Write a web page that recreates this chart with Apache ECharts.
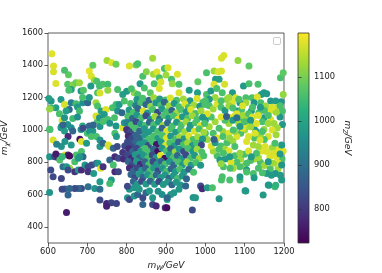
<!DOCTYPE html>
<html><head><meta charset="utf-8">
<script src="https://cdn.jsdelivr.net/npm/echarts@6/dist/echarts.min.js"></script>
<style>html,body{margin:0;padding:0;background:#fff}#c{width:382px;height:273px}</style>
</head><body><div id="c"></div>
<script>
// Tick labels
const xTicks = [600, 700, 800, 900, 1000, 1100, 1200];
const yTicks = [400, 600, 800, 1000, 1200, 1400, 1600];
const cTicks = [800, 900, 1000, 1100];
const cRange = [723, 1200];

// Points: [m_W, m_chi, m_Z]
const upperLeft = [
[610,1472,1180],[614,1395,1175],[614,1360,1170],[620,1288,1175],[652,1342,1080],[642,1369,1060],[650,1282,1070],[663,1278,1110],[671,1292,1090],[680,1292,1130],[659,1251,990],[653,1245,1060],[684,1241,980],[690,1245,1070],[705,1364,1180],[710,1333,1175],[714,1400,1080],[718,1307,1130],[724,1302,1060],[731,1272,1050],[739,1282,1060],[752,1282,1050],[750,1430,1130],[762,1416,1175],[773,1406,1090],[709,1272,980],[726,1230,1060],[732,1228,1170],[752,1245,1120],[777,1251,1060],[790,1220,990],
[608,1179,970],[633,1189,980],[620,1137,990],[642,1158,1170],[608,1137,1050],[659,1168,920],[671,1162,1050],[675,1142,980],[688,1168,960],[688,1200,1060],[654,1127,890],[646,1117,990],[680,1117,1050],[701,1168,880],[705,1200,980],[722,1168,1130],[726,1148,1060],[735,1117,990],[747,1127,1175],[743,1096,980],[764,1137,1060],[773,1158,1050],[781,1158,980],[794,1179,1060],[777,1117,960],[788,1107,880],
[636,1059,1170],[629,1100,1060],[642,1076,970],[663,1071,1050],[675,1080,960],[650,1034,970],[659,1014,960],[633,1014,970],[642,993,990],[605,1003,1050],[663,993,880],[684,1003,960],[688,1024,1020],[705,1024,880],[714,993,980],[726,1055,1060],[722,1086,1170],[731,1076,970],[752,1065,1060],[769,1076,1060],[773,1024,970],[790,1014,1175],[794,1045,970],[807,1076,880],[815,1055,1060],[803,993,880],[602,1195,990],[604,1130,1120]
];
const midLeft = [
[604,1004,1060],[613,938,1175],[634,1021,980],[638,1031,880],[651,959,780],[643,928,970],[659,907,980],[634,897,970],[681,942,750],[685,928,1175],[689,1010,830],[700,979,1060],[706,990,970],[710,959,1060],[698,917,980],[723,959,1060],[732,938,970],[732,897,980],[740,917,880],[753,907,1175],[756,897,1170],[766,886,880],[776,897,830],[770,979,1060],[774,959,980],[732,1021,970],[715,1031,880],[740,1052,1060],[757,1041,970],[622,912,930]
];
const lowerLeft = [
[604,834,970],[607,752,830],[604,613,970],[617,834,830],[625,830,780],[630,834,790],[620,851,760],[613,710,830],[634,700,820],[630,814,1060],[638,772,900],[643,845,1175],[651,845,770],[655,838,740],[636,834,1040],[655,762,1120],[668,803,1060],[672,845,1060],[677,824,980],[685,866,1060],[689,834,880],[681,834,970],[647,772,970],[651,752,830],[668,741,790],[677,752,970],[685,752,780],[694,783,970],[702,772,830],[702,741,790],[711,783,830],[716,731,980],[723,793,880],[727,793,970],[734,762,1175],[740,772,790],[757,814,880],[766,783,1060],[770,834,780],[779,824,830],[770,741,780],[779,741,820],[761,690,980],[757,669,1050],[732,679,980],[719,638,970],[702,648,900],[685,638,830],[677,638,880],[668,638,830],[655,638,880],[643,634,880],[636,632,830],[651,597,880],[732,632,890],[732,566,830],[749,545,780],[761,549,820],[774,545,820],[749,528,770],[647,489,760],[790,860,800],[795,900,830],[792,820,780]
];
const topMiddle = [
[807,1395,1175],[824,1402,1090],[828,1410,1060],[866,1443,1130],[841,1333,1060],[834,1286,980],[868,1344,1130],[877,1358,1175],[883,1323,1060],[887,1296,1175],[870,1286,1060],[896,1381,1060],[900,1340,1130],[883,1257,1175],[819,1230,1120],[828,1220,1060],
[905,1385,1175],[929,1344,1175],[914,1313,1060],[916,1286,1120],[933,1282,1060],[981,1298,1080],[959,1245,980],[933,1230,1175],[980,1230,990],[845,1260,1060],[860,1230,1080],[850,1360,1110],[800,1240,980],[812,1255,1060]
];
const topRight = [
[1047,1461,1175],[1041,1443,1170],[1083,1430,1120],[1111,1395,1080],[1003,1354,1060],[1022,1364,1130],[1033,1360,1175],[1041,1364,1170],[1026,1313,980],[1035,1313,990],[1022,1282,1175],[1049,1282,1170],[1097,1272,980],[1111,1286,1060],[1134,1282,1060],[1149,1230,970],[1156,1224,980],[1142,1220,980],[1191,1323,1060],[1198,1354,1080],[1198,1220,1120],[1003,1220,1060],[1014,1241,980],[1029,1257,1060],[1043,1230,1060],[1069,1230,980],[1077,1199,1175],[1103,1199,1060],[1119,1199,1060],[1132,1204,1175],[1054,1189,1120]
];
const rightSide = [
[1103,1168,1130],[1088,1168,980],[1069,1168,1175],[1124,1168,970],[1141,1168,1060],[1166,1179,970],[1179,1179,980],[1193,1175,970],[1183,1137,1175],[1196,1117,1060],[1164,1117,1175],[1153,1148,1130],[1117,1117,980],[1136,1107,1060],[1107,1076,1130],[1149,1076,980],[1166,1065,1175],[1190,1080,970],[1196,1034,980],[1183,1014,1130],[1149,1003,1120],[1124,1024,970],[1128,993,980],[1107,1034,1175],[1090,1055,1060],[1064,1076,1175],[1075,1086,1175],[1081,1117,980],[1092,1125,1060],
[1010,1150,1060],[1020,1130,1130],[1030,1160,1175],[1040,1140,1060],[1050,1120,980],[1060,1150,1130],[1070,1135,1060],[1080,1100,1175],[1095,1090,1130],[1110,1100,1060],[1120,1080,1175],[1135,1090,1175],[1145,1050,1060],[1160,1040,1130],[1170,1000,1175],[1180,970,1130],[1160,960,1175],[1150,940,1060],[1140,970,1130],[1125,950,1060],[1110,960,1175],[1100,1000,1130],[1090,980,1060],[1080,960,1175],[1070,930,1130],[1055,920,1060],[1045,990,1130],[1035,1010,1060],[1025,1050,1130],[1015,1080,1060],[1005,1100,1175],[1000,1060,980],[1010,1020,1130],[1020,980,1060],[1030,950,1175],[1040,900,1060],[1050,880,1130],[1060,870,1175],[1075,840,1060],[1090,820,1130],[1100,850,1060],[1110,870,1175],[1125,820,1130],[1140,800,1060],[1150,780,1130],[1165,760,1060],[1185,760,1130],[1195,820,1060],[1198,870,1175],[1185,880,1175],[1170,890,1130],[1145,870,1175],[1135,830,1130],[1115,810,1060],[1100,780,1130],[1080,800,1060],[1065,800,1175],[1050,820,980],[1030,840,1060],[1020,870,1130],[1015,900,1175],[1025,920,980],[1035,880,1060],[1005,940,1130],[1000,980,1060],[1060,1040,1130],[1050,1060,1060],[1040,1080,1175],[1070,1060,980],[1085,1040,1130],[1100,1050,1060],[1115,1020,1130],[1130,1040,1175],[1160,1090,1060],[1175,1040,1130],[1190,1150,1060],[1180,1110,1130],[1170,1140,1175],[1150,1120,1060],[1140,1140,980],[1120,1140,1060],[1095,1150,1175],[1085,1190,1060],[1060,1200,1130],[1040,1180,1060],[1025,1200,1130],[1010,1190,980],[1000,1180,1060],[1115,1060,980],[1095,1010,1175],[1075,990,1130],[1060,980,1175],[1045,960,1060],[1145,990,1060],
[986,917,830],[1054,1083,870],[1022,940,870],[1080,1075,900],
[1156,866,1175],[1164,834,1175],[1173,855,1170],[1181,834,1175],[1152,897,1175],[1135,897,1130],[1190,851,980],[1186,793,1175],[1194,783,970],[1173,793,1130],[1160,803,980],[1194,907,980],[1177,917,1060],[1122,907,1130],[1130,855,1060],[1117,834,980],[1105,793,1060],[1088,772,1060],[1071,762,1130],[1063,762,1060],[1046,772,1060],[1041,690,1060],[1062,690,1060],[1088,690,1050],[1105,752,980],[1122,731,1060],[1135,762,1060],[1156,731,980],[1178,731,970],[1194,690,980],[1160,659,980],[1177,648,1050],[1101,624,980],[1147,597,980],[969,582,970],[1126,979,1175],[1139,938,1175],[1105,928,1175],[1071,1000,1060],[1088,1021,980],[1062,948,1120],[1075,897,1060],[1088,855,1120],[1062,834,980],[1046,855,1060],[1037,814,980],[1040,790,1120],
[1145,735,1060],[1124,704,980],[1105,739,1060],[1088,710,980],[1043,710,1060],[1168,719,980],[1191,720,980],[1162,657,980],[1179,657,1030],[1103,622,980],[1035,574,970]
];
const core = [
[826,1188,975],[841,1196,1060],[857,1184,880],[869,1199,1130],[884,1192,975],[899,1186,1060],[911,1197,1175],[927,1183,1060],[944,1191,1130],[961,1180,975],[979,1194,1175],[994,1172,1060],
[810,1163,1060],[823,1151,930],[836,1168,1060],[849,1158,880],[861,1145,1120],[874,1166,975],[887,1152,1060],[896,1171,880],[908,1149,1130],[921,1163,975],[933,1144,1060],[948,1160,1175],[957,1139,1060],[971,1155,1130],[986,1147,975],[999,1158,1060],
[806,1124,975],[817,1108,1060],[829,1131,880],[842,1117,1175],[853,1104,975],[866,1126,1060],[879,1110,830],[890,1129,975],[902,1113,1060],[915,1121,880],[927,1104,1130],[938,1126,1060],[952,1112,975],[963,1127,1175],[975,1102,1060],[989,1118,1130],
[803,1084,1060],[815,1070,880],[826,1092,975],[838,1075,1060],[849,1088,830],[861,1066,975],[872,1083,1130],[884,1069,880],[895,1090,1060],[907,1074,975],[919,1087,1060],[931,1066,1175],[942,1081,975],[955,1070,1060],[967,1088,1130],[979,1064,1060],[993,1079,975],
[801,1046,930],[812,1030,1060],[824,1051,830],[835,1036,975],[847,1027,1060],[858,1048,880],[869,1033,1060],[881,1049,975],[892,1028,1130],[904,1043,880],[916,1025,1060],[927,1047,975],[939,1031,1060],[951,1050,1130],[962,1029,975],[975,1044,1060],[987,1026,1175],[998,1040,1060],
[800,1003,790],[810,988,830],[822,1010,1060],[833,994,880],[845,1008,975],[856,987,975],[867,1005,975],[879,990,1060],[890,1011,880],[902,994,1175],[913,1008,1060],[925,986,975],[937,1004,1060],[948,989,1130],[960,1008,975],[972,992,1175],[984,1005,1060],[996,986,1130],
[804,963,780],[813,948,830],[824,969,880],[834,952,880],[846,967,975],[857,944,1060],[868,961,1060],[879,947,975],[891,966,1060],[901,949,1175],[912,963,975],[924,941,1060],[935,958,1130],[946,945,975],[958,962,1175],[969,940,1060],[981,957,1130],[993,944,975],
[802,925,830],[812,908,830],[823,928,880],[833,912,975],[845,922,975],[855,904,830],[866,927,1060],[876,909,750],[888,923,975],[899,905,1175],[910,921,1060],[921,902,975],[932,925,880],[944,908,1060],[955,921,1130],[967,903,975],[978,918,1060],[990,906,830],
[805,884,780],[815,866,880],[825,887,830],[836,870,975],[847,885,1060],[857,864,1060],[868,882,880],[879,866,740],[890,886,975],[901,869,1060],[912,883,880],[923,864,1130],[934,881,975],[945,867,830],[956,885,1060],[968,866,975],[979,880,1130],[991,863,1060],
[802,844,830],[812,826,780],[822,846,975],[833,829,880],[843,843,975],[854,825,1060],[865,845,830],[875,828,975],[886,842,1175],[897,824,740],[908,846,975],[918,827,1060],[929,841,880],[940,823,975],[951,844,830],[962,826,1060],[973,842,975],[985,824,1130],[996,840,1060],
[804,805,880],[814,786,830],[825,806,975],[835,788,780],[846,803,880],[856,785,1060],[867,805,830],[877,787,975],[888,806,880],[898,789,1060],[909,804,975],[920,785,880],[931,802,1060],[942,784,975],[953,800,1130],[964,783,975],[976,798,1060],[988,782,975],
[807,764,780],[817,746,880],[827,766,830],[838,749,975],[848,763,880],[859,745,1060],[869,765,975],[880,748,830],[891,762,975],[902,744,1060],[913,760,880],[924,742,975],[935,758,1060],[946,740,975],[958,756,880],[970,738,1060],
[811,724,880],[821,706,830],[832,725,975],[842,708,880],[853,723,975],[864,705,1060],[875,722,880],[886,706,975],[897,721,975],[908,703,880],[919,718,975],[930,700,1060],[941,715,975],[952,698,880],
[817,681,880],[827,664,975],[838,683,830],[849,665,975],[860,682,880],[871,663,975],[882,680,830],[893,662,975],[904,678,975],[915,661,880],[926,676,975],[937,659,975],
[802,580,975],[807,570,830],[819,591,975],[828,601,880],[841,580,830],[849,611,880],[841,539,880],[866,539,830],[875,529,780],[898,518,790],[807,632,975],[802,652,830],[819,642,975],[832,632,975],[858,622,975],[866,580,975],[880,620,960],[890,600,960],[902,518,740],[967,504,830],[903,570,975],[975,580,975],[988,653,830],[992,636,780],[1005,642,975],[1018,642,1060],[950,653,880],[933,632,975],[920,611,975],[912,601,975],[903,580,880]
];

const points = [].concat(upperLeft, midLeft, lowerLeft, topMiddle, topRight, rightSide, core);

const viridis = ['#440154','#472d7b','#3b528b','#2c728e','#21918c','#28ae80','#5ec962','#addc30','#fde725'];
const FONT = 'DejaVu Sans';
const chart = echarts.init(document.getElementById('c'), null, {renderer: 'canvas'});

const gradStops = viridis.map((c, i) => ({offset: 1 - i / (viridis.length - 1), color: c}));
const plain = v => String(v);

const nameRich = {
  a: {fontFamily: FONT, fontStyle: 'italic', fontSize: 9, color: '#222'},
  b: {fontFamily: FONT, fontStyle: 'italic', fontSize: 6.5, color: '#222', padding: [5, 0, 0, 0]}
};

chart.setOption({
  animation: false,
  backgroundColor: '#fff',
  grid: [
    {left: 48, top: 33, width: 236, height: 210, outerBoundsMode: 'none', containLabel: false,
     show: true, borderColor: '#333', borderWidth: 0.8, backgroundColor: '#fff'},
    {left: 298, top: 33, width: 11, height: 210, outerBoundsMode: 'none', containLabel: false,
     show: true, borderColor: '#333', borderWidth: 0.8,
     backgroundColor: {type: 'linear', x: 0, y: 0, x2: 0, y2: 1, colorStops: gradStops}}
  ],
  xAxis: [
    {type: 'value', gridIndex: 0, min: 600, max: 1200, interval: 100,
     name: '{a|m}{b|W}{a|/GeV}', nameLocation: 'middle', nameGap: 17,
     nameTextStyle: {rich: nameRich},
     axisLine: {show: false}, splitLine: {show: false},
     axisTick: {show: true, length: 3.5, lineStyle: {color: '#333', width: 0.8}},
     axisLabel: {fontFamily: FONT, fontSize: 8.3, color: '#222', margin: 5, formatter: plain, hideOverlap: false}},
    {type: 'value', gridIndex: 1, min: 0, max: 1, show: false}
  ],
  yAxis: [
    {type: 'value', gridIndex: 0, min: 300, max: 1600,
     name: '{a|m}{b|χ}{a|/GeV}', nameLocation: 'middle', nameGap: 31, nameRotate: 90,
     nameTextStyle: {rich: nameRich},
     axisLine: {show: false}, splitLine: {show: false},
     axisTick: {show: true, length: 3.5, customValues: yTicks, lineStyle: {color: '#333', width: 0.8}},
     axisLabel: {fontFamily: FONT, fontSize: 8.3, color: '#222', margin: 5, customValues: yTicks, formatter: plain}},
    {type: 'value', gridIndex: 1, position: 'right', min: cRange[0], max: cRange[1],
     name: '{a|m}{b|Z}{a|/GeV}', nameLocation: 'middle', nameGap: 32, nameRotate: -90,
     nameTextStyle: {rich: nameRich},
     axisLine: {show: false}, splitLine: {show: false},
     axisTick: {show: true, length: 3.5, customValues: cTicks, lineStyle: {color: '#333', width: 0.8}},
     axisLabel: {fontFamily: FONT, fontSize: 8.3, color: '#222', margin: 5, customValues: cTicks, formatter: plain}}
  ],
  visualMap: {show: false, type: 'continuous', dimension: 2, seriesIndex: 0,
    min: cRange[0], max: cRange[1], inRange: {color: viridis}},
  graphic: [
    {type: 'rect', left: 273, top: 37, shape: {width: 7, height: 7, r: 1.5},
     style: {fill: '#fff', stroke: '#ccc', lineWidth: 1}, z: 100}
  ],
  series: [{
    type: 'scatter', xAxisIndex: 0, yAxisIndex: 0, symbol: 'circle', symbolSize: 7,
    data: points, itemStyle: {opacity: 1}, clip: true
  }]
});
</script></body></html>
